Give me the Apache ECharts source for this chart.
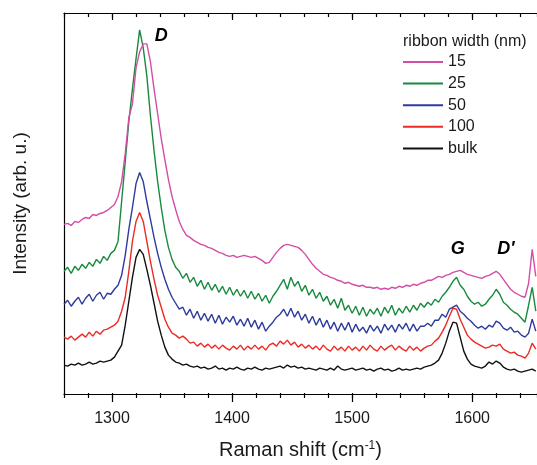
<!DOCTYPE html>
<html><head><meta charset="utf-8">
<script src="https://cdn.jsdelivr.net/npm/echarts@6/dist/echarts.min.js"></script>
<style>html,body{margin:0;padding:0;background:#fff}#c{width:537px;height:465px}</style>
</head><body><div id="c"></div>
<script>
// Raman shift grid (cm^-1)
const ramanShift = [
1260,1263,1266,1269,1272,1275,1278,1281,1284,1287,
1290,1293,1296,1299,1302,1305,1308,1311,1314,1317,
1320,1323,1326,1329,1332,1335,1338,1341,1344,1347,
1350,1353,1356,1359,1362,1365,1368,1371,1374,1377,
1380,1383,1386,1389,1392,1395,1398,1401,1404,1407,
1410,1413,1416,1419,1422,1425,1428,1431,1434,1437,
1440,1443,1446,1449,1452,1455,1458,1461,1464,1467,
1470,1473,1476,1479,1482,1485,1488,1491,1494,1497,
1500,1503,1506,1509,1512,1515,1518,1521,1524,1527,
1530,1533,1536,1539,1542,1545,1548,1551,1554,1557,
1560,1563,1566,1569,1572,1575,1578,1581,1584,1587,
1590,1593,1596,1599,1602,1605,1608,1611,1614,1617,
1620,1623,1626,1629,1632,1635,1638,1641,1644,1647,
1650,1653];

// Intensities (arb. u., vertically offset spectra)
const w15 = [
169,170,168,172,171,174,176,175,179,178,
180,181,183,186,189,197,212,240,276,290,
326,342,350,350,332,305,280,255,234,214,
197,184,172,164,158,156,153,151,149,148,
146,145,143,141,140,138,137,138,136,137,
138,137,136,137,135,133,130,131,136,141,
145,148,149,148,147,146,143,139,134,129,
125,122,119,118,116,115,113,112,110,111,
109,108,107,108,106,106,105,106,104,105,
104,106,105,107,106,108,107,109,108,110,
111,113,113,115,117,116,118,119,121,122,
123,121,119,118,117,116,115,117,118,120,
122,119,114,109,104,101,99,97,96,110,
144,117];
const w25 = [
122,126,120,127,123,129,125,131,127,134,
130,137,133,140,143,152,192,232,272,305,
335,364,346,318,278,243,212,186,163,146,
134,126,122,115,120,111,116,107,113,104,
111,103,109,101,107,99,106,98,104,97,
103,95,102,94,100,92,98,90,97,102,
108,114,104,116,107,112,102,108,98,104,
95,101,92,97,88,94,85,95,83,88,
80,87,78,86,77,84,79,85,77,86,
80,88,78,85,80,87,81,88,83,90,
86,91,88,94,91,97,101,106,112,116,
108,104,97,92,89,91,87,89,94,98,
104,99,91,88,84,81,79,75,71,88,
106,82];
const w50 = [
89,93,87,92,96,89,95,99,92,98,
101,94,100,99,104,108,118,138,164,186,
210,221,212,192,174,156,140,126,114,104,
96,90,84,86,78,84,75,82,73,80,
72,79,70,78,69,76,71,77,68,74,
67,75,66,73,64,71,62,67,71,76,
79,84,77,85,76,82,73,79,70,77,
68,75,66,73,64,71,62,70,63,71,
61,69,62,66,60,68,62,67,60,69,
63,68,61,69,64,70,62,69,62,67,
67,70,67,73,73,79,76,84,86,88,
82,79,75,72,68,65,67,64,68,66,
72,70,65,63,66,61,62,58,56,60,
74,62];
const w100 = [
56,54,57,53,56,59,56,61,57,62,
59,63,64,66,68,72,82,96,122,152,
172,181,172,152,132,114,98,86,74,66,
60,58,55,57,54,50,51,47,50,46,
49,45,48,44,48,45,43,47,44,48,
43,47,44,48,44,47,43,48,50,47,
52,49,53,48,51,46,49,45,48,44,
47,43,48,44,42,47,43,46,42,47,
43,46,42,47,43,48,44,42,47,43,
46,48,43,47,44,42,47,43,46,42,
45,47,48,52,55,61,68,77,85,84,
74,66,58,54,51,49,47,45,46,48,
47,49,44,42,40,41,38,37,35,40,
50,44];
const bulk = [
28,27,29,28,30,28,29,31,29,30,
32,31,32,33,36,42,48,68,92,116,
136,144,139,124,108,90,72,58,46,38,
34,31,30,28,29,27,26,27,25,26,
24,25,27,24,25,23,25,24,26,24,
23,25,24,26,24,23,25,24,25,26,
27,25,28,26,27,25,26,24,25,24,
23,25,24,23,25,23,27,24,23,24,
25,23,24,25,23,24,22,24,25,23,
24,22,23,25,23,24,23,24,25,24,
26,27,28,30,33,40,50,62,71,70,
56,42,34,29,27,26,25,27,31,29,
32,30,26,24,23,24,22,21,22,23,
24,22];

const seriesNames = ['15', '25', '50', '100', 'bulk'];
const seriesValues = [w15, w25, w50, w100, bulk];
const seriesColors = ['#d24ea6', '#178a3e', '#2c3b9c', '#ec2b25', '#111111'];
const majorTicks = [1300, 1400, 1500, 1600];
const peakNames = ['D', 'G', "D'"];
const peakX = [1341, 1588, 1628];
const peakY = [358, 144, 144];

const FONT = '"Liberation Sans", Arial, Helvetica, sans-serif';
const chart = echarts.init(document.getElementById('c'), null, {renderer: 'canvas'});
const X_MIN = 1260, X_MAX = 1654;
const axisColor = '#000';

const series = seriesNames.map((n, k) => ({
  name: n,
  type: 'line',
  xAxisIndex: 0, yAxisIndex: 0,
  data: ramanShift.map((x, i) => [x, seriesValues[k][i]]),
  symbol: 'none', showSymbol: false,
  lineStyle: {width: 1.4, color: seriesColors[k]},
  itemStyle: {color: seriesColors[k]},
  z: 10 - k
}));
series[4].markPoint = {
  symbol: 'circle', symbolSize: 1,
  itemStyle: {color: 'rgba(0,0,0,0)'},
  label: {show: true, position: 'inside', fontSize: 18, fontWeight: 'bold', fontStyle: 'italic', color: '#000', fontFamily: FONT,
          formatter: p => p.name},
  data: peakNames.map((n, i) => ({name: n, coord: [peakX[i], peakY[i]]}))
};

chart.setOption({
  animation: false,
  textStyle: {fontFamily: FONT},
  title: {text: 'ribbon width (nm)', left: 403, top: 34, padding: 0,
          textStyle: {fontSize: 16, fontWeight: 'normal', color: '#1a1a1a', fontFamily: FONT}},
  legend: {orient: 'vertical', left: 403, top: 54, padding: 0, itemWidth: 40, itemHeight: 2, itemGap: 5.6,
           icon: 'rect', data: seriesNames,
           textStyle: {fontSize: 16, color: '#1a1a1a', lineHeight: 16, fontFamily: FONT}},
  grid: {left: 64, right: 0, top: 13, bottom: 70, containLabel: false},
  xAxis: [
    {type: 'value', min: X_MIN, max: X_MAX, position: 'bottom',
     axisLine: {show: true, onZero: false, lineStyle: {color: axisColor, width: 1.2}},
     axisTick: {show: true, inside: false, length: 8, customValues: majorTicks, lineStyle: {color: axisColor, width: 1.2}},
     axisLabel: {show: true, customValues: majorTicks, fontSize: 16, color: '#1a1a1a', margin: 17, fontFamily: FONT,
                 formatter: v => String(v)},
     splitLine: {show: false},
     name: 'Raman shift (cm{sup|-1})', nameLocation: 'middle', nameGap: 46,
     nameTextStyle: {fontSize: 20, color: '#1a1a1a', fontFamily: FONT,
       rich: {sup: {fontSize: 12, verticalAlign: 'top', color: '#1a1a1a', fontFamily: FONT}}}},
    {type: 'value', min: X_MIN, max: X_MAX, interval: 20, position: 'bottom', offset: 0,
     axisLine: {show: false}, axisTick: {show: true, inside: false, length: 5, lineStyle: {color: axisColor, width: 1.2}},
     axisLabel: {show: false}, splitLine: {show: false}},
    {type: 'value', min: X_MIN, max: X_MAX, position: 'top', offset: 0,
     axisLine: {show: true, onZero: false, lineStyle: {color: axisColor, width: 1.2}},
     axisTick: {show: true, inside: true, length: 7, customValues: majorTicks, lineStyle: {color: axisColor, width: 1.2}},
     axisLabel: {show: false}, splitLine: {show: false}},
    {type: 'value', min: X_MIN, max: X_MAX, interval: 20, position: 'top', offset: 0,
     axisLine: {show: false}, axisTick: {show: true, inside: true, length: 4, lineStyle: {color: axisColor, width: 1.2}},
     axisLabel: {show: false}, splitLine: {show: false}}
  ],
  yAxis: {type: 'value', min: -1, max: 381, position: 'left',
    axisLine: {show: true, onZero: false, lineStyle: {color: axisColor, width: 1.2}},
    axisTick: {show: false}, axisLabel: {show: false}, splitLine: {show: false},
    name: 'Intensity (arb. u.)', nameLocation: 'middle', nameGap: 34,
    nameTextStyle: {fontSize: 19, color: '#1a1a1a', fontFamily: FONT}},
  series: series
});
</script></body></html>
